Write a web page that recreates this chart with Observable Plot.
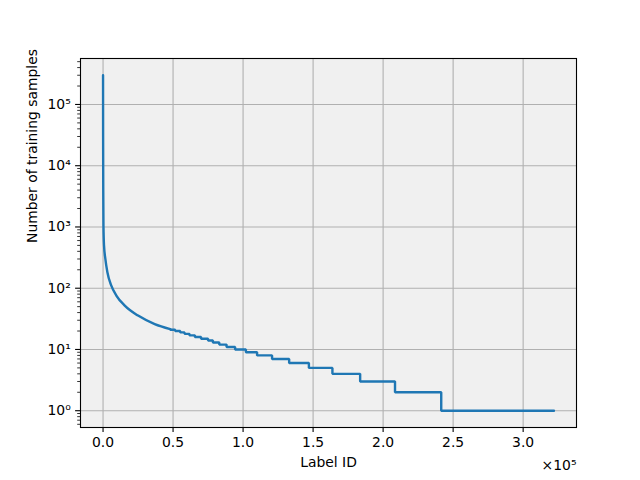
<!DOCTYPE html>
<html>
<head>
<meta charset="utf-8">
<script src="https://cdn.jsdelivr.net/npm/d3@7"></script>
<script src="https://cdn.jsdelivr.net/npm/@observablehq/plot@0.6"></script>
<style>
  html, body { margin: 0; padding: 0; background: #ffffff; }
  #chart { width: 640px; height: 480px; }
</style>
</head>
<body>
<div id="chart"></div>
<script>
// Smooth head of the curve (rank, count)
const headRank  = [0, 50, 150, 300, 700, 1650, 3100, 5900, 9500, 15500, 25000, 36900, 48000];
const headCount = [300000, 30000, 4000, 1050, 497, 301, 182, 110, 76, 52, 35.7, 26, 21.5];

// Staircase tail: first rank with each integer count
const stepCount = [21, 20, 19, 18, 17, 16, 15, 14, 13, 12, 11, 10, 9, 8, 7, 6, 5, 4, 3, 2, 1];
const stepStart = [48000, 51500, 55100, 58200, 61700, 65600, 70000, 75000, 78450, 83000, 88200,
                   94300, 102000, 110000, 120700, 132900, 147000, 163800, 183600, 208500, 241500];
const lastRank = 322000;

// Axis ticks
const xTicks = [0, 50000, 100000, 150000, 200000, 250000, 300000];
const yTicks = [1, 10, 100, 1000, 10000, 100000];

// Build the tables
const head = headRank.map((r, i) => ({rank: r, count: headCount[i]}));
const tail = [];
stepCount.forEach((c, i) => {
  const end = i + 1 < stepStart.length ? stepStart[i + 1] : lastRank;
  tail.push({rank: stepStart[i], count: c});
  tail.push({rank: end, count: c});
});
tail.unshift(head[head.length - 1]);

const sup = {"0":"⁰","1":"¹","2":"²","3":"³","4":"⁴","5":"⁵","6":"⁶","7":"⁷","8":"⁸","9":"⁹","-":"⁻"};
const toSup = s => String(s).split("").map(ch => sup[ch]).join("");

// minor log ticks
const yMinor = [];
for (let e = -1; e <= 5; e++) for (let m = 2; m <= 9; m++) {
  const v = m * Math.pow(10, e);
  if (v > 0.532 && v < 563000) yMinor.push(v);
}

const plot = Plot.plot({
  width: 640,
  height: 480,
  marginLeft: 80,
  marginRight: 64,
  marginTop: 58,
  marginBottom: 53,
  style: {fontFamily: "DejaVu Sans", fontSize: "13.9px", background: "#ffffff", color: "#000000"},
  x: {domain: [-16100, 338100], label: null},
  y: {type: "log", domain: [0.532, 563000], label: null},
  marks: [
    Plot.frame({fill: "#f0f0f0", stroke: null}),
    Plot.gridX(xTicks, {stroke: "#b0b0b0", strokeOpacity: 1, strokeWidth: 1.1}),
    Plot.gridY(yTicks, {stroke: "#b0b0b0", strokeOpacity: 1, strokeWidth: 1.1}),
    Plot.line(head, {x: "rank", y: "count", stroke: "#1f77b4", strokeWidth: 2.4, curve: "monotone-x"}),
    Plot.line(tail, {x: "rank", y: "count", stroke: "#1f77b4", strokeWidth: 2.4, strokeLinejoin: "miter"}),
    Plot.frame({stroke: "#000000", strokeWidth: 1.1}),
    Plot.axisX({ticks: xTicks, tickFormat: d => (d / 1e5).toFixed(1), tickSize: 4.9, tickPadding: 4.9, strokeWidth: 1.1, label: null}),
    Plot.axisY({ticks: yTicks, tickFormat: d => "10" + toSup(Math.round(Math.log10(d))), tickSize: 4.9, tickPadding: 4.9, strokeWidth: 1.1, label: null}),
    Plot.axisY({ticks: yMinor, tickFormat: null, text: null, tickSize: 2.8, strokeWidth: 0.8, label: null}),
    Plot.text(["Label ID"], {frameAnchor: "bottom", dy: 35, lineAnchor: "middle", fontSize: 13.9}),
    Plot.text(["Number of training samples"], {frameAnchor: "left", rotate: -90, dx: -48, lineAnchor: "middle", fontSize: 13.9}),
    Plot.text(["×10⁵"], {frameAnchor: "bottom-right", dy: 38, textAnchor: "end", lineAnchor: "middle", fontSize: 13.9})
  ]
});
document.getElementById("chart").appendChild(plot);
</script>
</body>
</html>
